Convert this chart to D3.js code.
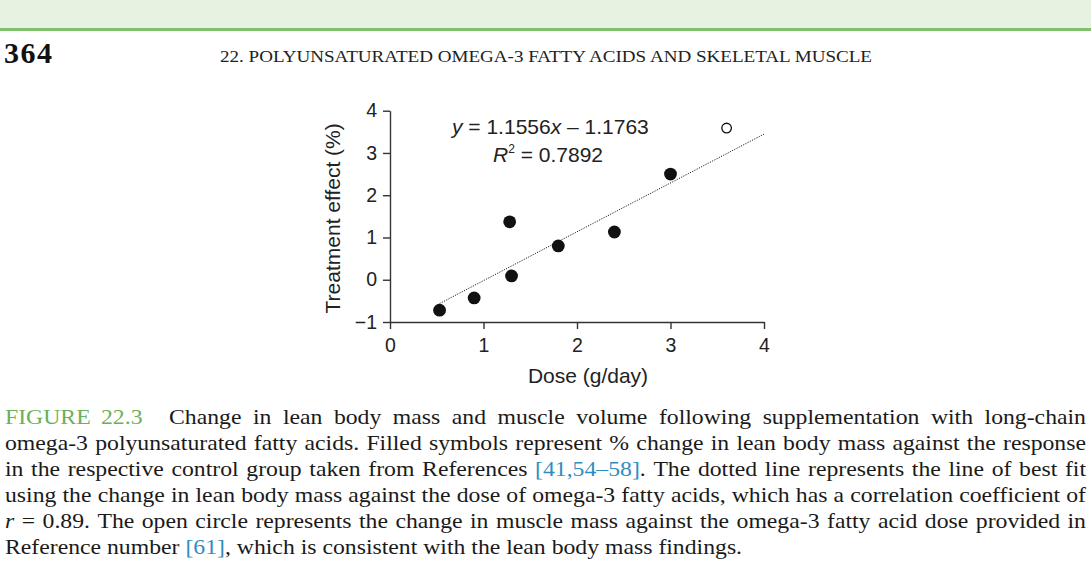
<!DOCTYPE html>
<html>
<head>
<meta charset="utf-8">
<script src="https://cdn.jsdelivr.net/npm/d3@7"></script>
<style>
  body { margin: 0; background: #fff; }
  svg { display: block; }
</style>
</head>
<body>
<div id="vis"></div>
<script>
// data
let dose = [0.53, 0.90, 1.28, 1.30, 1.80, 2.40, 3.00];
let effect = [-0.72, -0.43, 1.37, 0.09, 0.80, 1.13, 2.50];
let openDose = [3.60];
let openEffect = [3.59];
let fitSlope = 1.1556, fitIntercept = -1.1763;
let fitRange = [0.53, 4];
let xTicks = [0, 1, 2, 3, 4];
let yTicks = [-1, 0, 1, 2, 3, 4];

let W = 1091, H = 567;

let svg = d3.select('#vis')
  .append('svg')
  .attr('width', W)
  .attr('height', H)
  .attr('viewBox', [0, 0, W, H].join(' '));

// page header
svg.append('rect').attr('x', 0).attr('y', 0).attr('width', W).attr('height', 28).attr('fill', '#e6f3e1');
svg.append('rect').attr('x', 0).attr('y', 28).attr('width', W).attr('height', 3).attr('fill', '#7fbf6e');

svg.append('text')
  .attr('x', 4).attr('y', 63)
  .attr('font-family', 'Liberation Serif, serif')
  .attr('font-weight', 'bold')
  .attr('font-size', 30)
  .attr('fill', '#111')
  .attr('textLength', 48)
  .text('364');

svg.append('text')
  .attr('x', 220).attr('y', 62)
  .attr('font-family', 'Liberation Serif, serif')
  .attr('font-size', 16.5)
  .attr('fill', '#222')
  .attr('textLength', 652)
  .attr('lengthAdjust', 'spacingAndGlyphs')
  .text('22. POLYUNSATURATED OMEGA-3 FATTY ACIDS AND SKELETAL MUSCLE');

// chart
let x = d3.scaleLinear().domain([0, 4]).range([390, 764]);
let y = d3.scaleLinear().domain([-1, 4]).range([322, 110.7]);
let sans = 'Liberation Sans, Arial, sans-serif';

let gx = svg.append('g')
  .attr('transform', `translate(0,${y(-1)})`)
  .call(d3.axisBottom(x).tickValues(xTicks).tickFormat(d3.format('d')).tickSize(7).tickSizeOuter(0).tickPadding(9));

let gy = svg.append('g')
  .attr('transform', `translate(${x(0)},0)`)
  .call(d3.axisLeft(y).tickValues(yTicks).tickFormat(d => d < 0 ? '\u2212' + Math.abs(d) : d).tickSize(7).tickSizeOuter(0).tickPadding(6));

[gx, gy].forEach(g => {
  g.selectAll('path, line').attr('stroke', '#333').attr('stroke-width', 1.4);
  g.selectAll('text').attr('font-family', sans).attr('font-size', 19.5).attr('fill', '#222');
});

svg.append('text')
  .attr('x', 588).attr('y', 383)
  .attr('text-anchor', 'middle')
  .attr('font-family', sans).attr('font-size', 21).attr('fill', '#222')
  .text('Dose (g/day)');

svg.append('text')
  .attr('transform', `translate(340,${(y(4) + y(-1)) / 2 + 2}) rotate(-90)`)
  .attr('text-anchor', 'middle')
  .attr('font-family', sans).attr('font-size', 21).attr('fill', '#222')
  .text('Treatment effect (%)');

// best fit line
svg.append('line')
  .attr('x1', x(fitRange[0])).attr('y1', y(fitSlope * fitRange[0] + fitIntercept))
  .attr('x2', x(fitRange[1])).attr('y2', y(fitSlope * fitRange[1] + fitIntercept))
  .attr('stroke', '#222').attr('stroke-width', 1)
  .attr('stroke-dasharray', '1.2,1.3');

// filled points
svg.selectAll('circle.filled')
  .data(dose.map((d, i) => [d, effect[i]]))
  .join('circle')
  .attr('class', 'filled')
  .attr('cx', d => x(d[0])).attr('cy', d => y(d[1]))
  .attr('r', 6.4)
  .attr('fill', '#111');

// open point
svg.selectAll('circle.open')
  .data(openDose.map((d, i) => [d, openEffect[i]]))
  .join('circle')
  .attr('class', 'open')
  .attr('cx', d => x(d[0])).attr('cy', d => y(d[1]))
  .attr('r', 4.8)
  .attr('fill', 'white').attr('stroke', '#111').attr('stroke-width', 1.3);

// equation
let eq = svg.append('text')
  .attr('x', 452).attr('y', 134)
  .attr('font-family', sans).attr('font-size', 21).attr('fill', '#222');
eq.append('tspan').attr('font-style', 'italic').text('y');
eq.append('tspan').text(' = 1.1556');
eq.append('tspan').attr('font-style', 'italic').text('x');
eq.append('tspan').text(' \u2013 1.1763');

let r2 = svg.append('text')
  .attr('x', 493).attr('y', 162)
  .attr('font-family', sans).attr('font-size', 21).attr('fill', '#222');
r2.append('tspan').attr('font-style', 'italic').text('R');
r2.append('tspan').attr('font-size', 12).attr('dy', -9).text('2');
r2.append('tspan').attr('dy', 9).text(' = 0.7892');

// caption, justified line by line
let green = '#6bb05a', blue = '#2f8dc0', ink = '#1a1a1a';
let captionLines = [
  [['FIGURE 22.3', green], ['Change in lean body mass and muscle volume following supplementation with long-chain', ink]],
  [['omega-3 polyunsaturated fatty acids. Filled symbols represent % change in lean body mass against the response', ink]],
  [['in the respective control group taken from References', ink], ['[41,54\u201358].', blue], ['The dotted line represents the line of best fit', ink]],
  [['using the change in lean body mass against the dose of omega-3 fatty acids, which has a correlation coefficient of', ink]],
  [['r', ink, 'italic'], ['= 0.89. The open circle represents the change in muscle mass against the omega-3 fatty acid dose provided in', ink]],
  [['Reference number', ink], ['[61],', blue], ['which is consistent with the lean body mass findings.', ink]]
];

let capFont = 'Liberation Serif, serif', capSize = 21;
let sx = 1.13; // caption face is wider in the reference
let left = 5 / sx, right = 1086 / sx;
let cap = svg.append('g').attr('transform', `scale(${sx},1)`);

captionLines.forEach((line, li) => {
  let base = 424 + li * 26.1;
  let words = [];
  line.forEach(seg => {
    let parts = seg[0].split(' ');
    parts.forEach(p => {
      // colored references stay glued to the following punctuation
      if (seg[1] === blue && p === '[41,54\u201358].') {
        words.push({ text: '[41,54\u201358]', color: blue, style: 'normal', glue: true });
        words.push({ text: '.', color: ink, style: 'normal' });
        return;
      }
      if (seg[1] === blue && p === '[61],') {
        words.push({ text: '[61]', color: blue, style: 'normal', glue: true });
        words.push({ text: ',', color: ink, style: 'normal' });
        return;
      }
      words.push({ text: p, color: seg[1], style: seg[2] || 'normal' });
    });
    if (seg[0] === 'FIGURE 22.3') words[words.length - 1].wide = true;
  });

  let nodes = words.map(w => cap.append('text')
    .attr('y', base)
    .attr('font-family', capFont)
    .attr('font-size', capSize)
    .attr('font-style', w.style)
    .attr('fill', w.color)
    .text(w.text));
  let widths = nodes.map(n => n.node().getComputedTextLength());

  let gaps = [];
  for (let i = 0; i < words.length - 1; i++) {
    if (words[i].glue) gaps.push(0);
    else if (words[i].text === 'FIGURE') gaps.push(0.9);
    else if (words[i].wide) gaps.push(2.3);
    else gaps.push(1);
  }
  let total = d3.sum(widths);
  let units = d3.sum(gaps);
  let last = li === captionLines.length - 1;
  let space = last ? capSize * 0.25 : (right - left - total) / units;

  let cx = left;
  nodes.forEach((n, i) => {
    n.attr('x', cx);
    cx += widths[i] + (i < gaps.length ? gaps[i] * space : 0);
  });
});
</script>
</body>
</html>
